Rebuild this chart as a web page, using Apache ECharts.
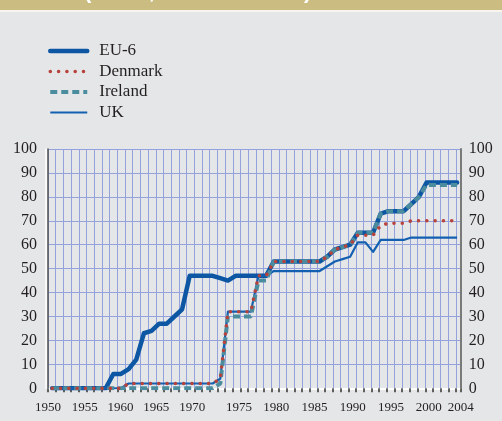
<!DOCTYPE html>
<html><head><meta charset="utf-8">
<script src="https://cdn.jsdelivr.net/npm/echarts@6/dist/echarts.min.js"></script>
<style>html,body{margin:0;padding:0;background:#e5e6e8}#c{width:502px;height:421px}</style>
</head><body><div id="c"></div>
<script>
const years = [1950,1951,1952,1953,1954,1955,1956,1957,1958,1959,1960,1961,1962,1963,1964,1965,1966,1967,1968,1969,1970,1971,1972,1973,1974,1975,1976,1977,1978,1979,1980,1981,1982,1983,1984,1985,1986,1987,1988,1989,1990,1991,1992,1993,1994,1995,1996,1997,1998,1999,2000,2001,2002,2003];
const eu6 = [0,0,0,0,0,0,0,0,6,6,8,12,23,24,27,27,30,33,47,47,47,47,46,45,47,47,47,47,47,53,53,53,53,53,53,53,55,58,59,60,65,65,65,73,74,74,74,77,80,86,86,86,86,86];
const denmark = [0,0,0,0,0,0,0,0,0,0,2,2,2,2,2,2,2,2,2,2,2,2,4,32,32,32,32,47,47,53,53,53,53,53,53,53,55,58,59,60,64,64,64,68,69,69,69,70,70,70,70,70,70,70];
const ireland = [0,0,0,0,0,0,0,0,0,0,0,0,0,0,0,0,0,0,0,0,0,0,2,30,30,30,30,45,45,53,53,53,53,53,53,53,55,58,59,60,65,65,65,73,74,74,74,77,80,85,85,85,85,85];
const uk = [0,0,0,0,0,0,0,0,0,0,2,2,2,2,2,2,2,2,2,2,2,2,4,32,32,32,32,47,47,49,49,49,49,49,49,49,51,53,54,55,61,61,57,62,62,62,62,63,63,63,63,63,63,63];
const seriesNames = ['EU-6','Denmark','Ireland','UK'];
const xTickLabels = [1950,1955,1960,1965,1970,1975,1980,1985,1990,1995,2000,2004];
const headerText = '(index, scale 0 to 100)';

const pairs = arr => years.map((y,i)=>[y,arr[i]]);
const serif = 'Liberation Serif';
const labelShift = {1955:'a',1960:'b',1965:'c',1970:'d',1980:'e',1985:'e',1990:'e',1995:'e',2000:'f'};
const richBase = {fontFamily:serif,fontSize:13,color:'#231f20'};
const chart = echarts.init(document.getElementById('c'),null,{renderer:'canvas'});
chart.setOption({
  backgroundColor:'#e5e6e8',
  animation:false,
  graphic:[
    {type:'rect',left:0,top:0,shape:{width:502,height:10},style:{fill:'#cbbd82'},z:0},
    {type:'rect',left:0,top:10,shape:{width:502,height:2},style:{fill:'#f7f5ee'},z:0},
    {type:'text',x:84,y:3,style:{text:headerText,fill:'#ffffff',font:'bold 22px Liberation Sans',textVerticalAlign:'bottom'},z:1}
  ],
  legend:{
    orient:'vertical',left:43,top:37,itemWidth:37,itemHeight:14,itemGap:2.5,
    data:seriesNames,
    itemStyle:{opacity:0},
    lineStyle:{width:'inherit'},
    textStyle:{fontFamily:serif,fontSize:17,color:'#231f20',lineHeight:18,padding:[0,0,0,7]}
  },
  grid:{left:48,right:41.3,top:149,bottom:32.7,containLabel:false},
  xAxis:[
    {type:'value',min:1949.45,max:2003.47,show:false},
    {type:'value',min:1949.4,max:2003,interval:1,position:'bottom',
      axisLine:{show:true,lineStyle:{color:'#ffffff',width:2}},
      axisTick:{show:true,length:4,inside:false,lineStyle:{color:'#333',width:1.5}},
      axisLabel:{show:false},
      splitLine:{show:true,lineStyle:{color:'#93a2dc',width:1}}},
    {type:'value',min:1950,max:2004,interval:1,position:'bottom',
      axisLine:{show:false},axisTick:{show:false},splitLine:{show:false},
      axisLabel:{show:true,margin:13,fontFamily:serif,fontSize:13,color:'#231f20',
        formatter:v=>{ if(xTickLabels.indexOf(v)<0) return ''; const k=labelShift[v]; return k?('{'+k+'|'+v+'}'):String(v); },
        rich:{a:Object.assign({padding:[0,3,0,0]},richBase),b:Object.assign({padding:[0,8,0,0]},richBase),
              c:Object.assign({padding:[0,13,0,0]},richBase),d:Object.assign({padding:[0,17,0,0]},richBase),
              e:Object.assign({padding:[0,2,0,0]},richBase),f:Object.assign({padding:[0,3,0,0]},richBase)}}}
  ],
  yAxis:[
    {type:'value',min:0,max:100,interval:10,position:'left',
      axisLine:{show:true,lineStyle:{color:'#555',width:1.5,shadowColor:'#ffffff',shadowOffsetX:-2}},
      axisTick:{show:false},
      axisLabel:{margin:11,fontFamily:serif,fontSize:16,color:'#231f20'},
      splitLine:{show:true,lineStyle:{color:'#93a2dc',width:1}}},
    {type:'value',min:0,max:100,interval:10,position:'right',
      axisLine:{show:true,lineStyle:{color:'#7a7a7a',width:2}},
      axisTick:{show:false},
      axisLabel:{margin:8,fontFamily:serif,fontSize:16,color:'#231f20'},
      splitLine:{show:false}}
  ],
  series:[
    {name:'EU-6',type:'line',xAxisIndex:0,yAxisIndex:0,data:pairs(eu6),symbol:'none',z:2,
      lineStyle:{color:'#0d56a3',width:4.5,cap:'round',join:'round'},itemStyle:{color:'#0d56a3'}},
    {name:'UK',type:'line',xAxisIndex:0,yAxisIndex:0,data:pairs(uk),symbol:'none',z:3,
      lineStyle:{color:'#1460b0',width:2.2,join:'round'},itemStyle:{color:'#1460b0'}},
    {name:'Ireland',type:'line',xAxisIndex:0,yAxisIndex:0,data:pairs(ireland),symbol:'none',z:4,
      lineStyle:{color:'#4b8d9e',width:4,type:[7,4]},itemStyle:{color:'#4b8d9e'}},
    {name:'Denmark',type:'line',xAxisIndex:0,yAxisIndex:0,data:pairs(denmark),symbol:'none',z:5,
      lineStyle:{color:'#b7423b',width:3.5,type:[0.1,8.2],cap:'round'},itemStyle:{color:'#b7423b'}}
  ]
});
</script></body></html>
